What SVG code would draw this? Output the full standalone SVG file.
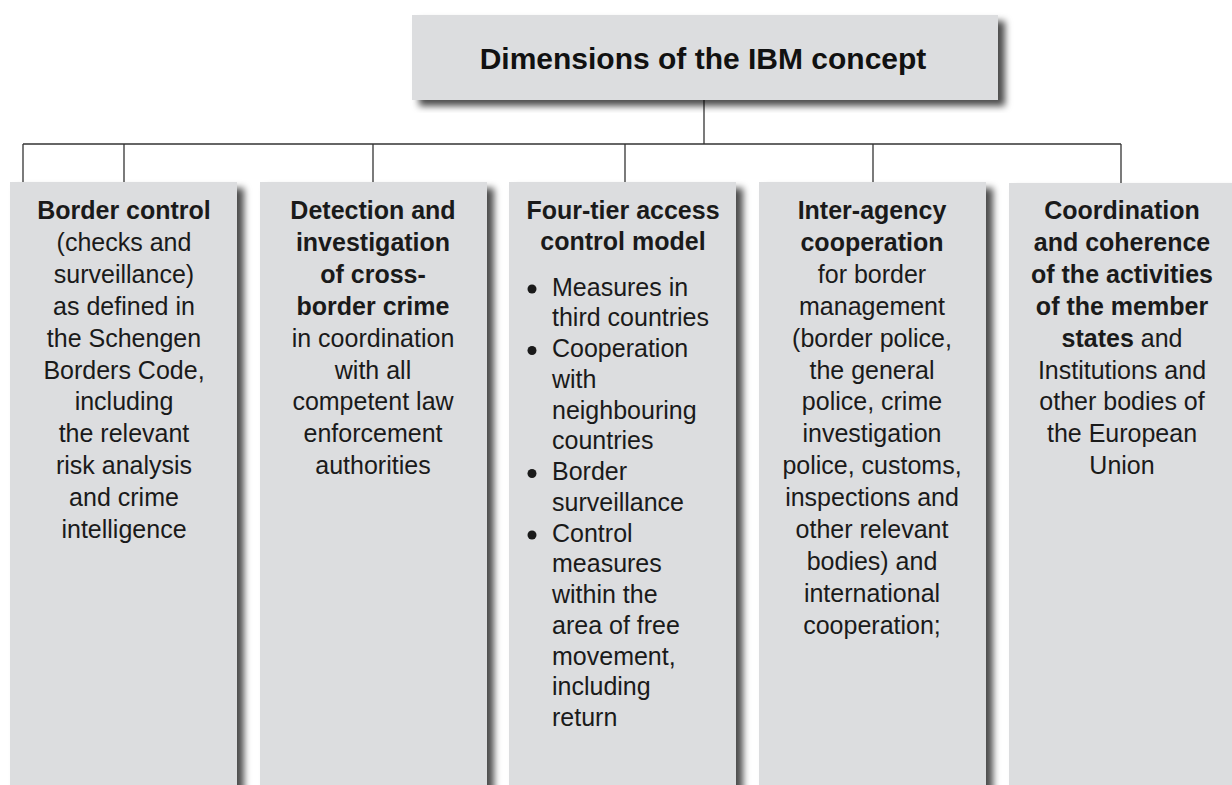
<svg xmlns="http://www.w3.org/2000/svg" width="1232" height="785" viewBox="0 0 1232 785">
<style>
.box{fill:#dcdddf;filter:url(#sh)}
.t{font-family:"Liberation Sans",Arial,sans-serif;font-size:25px;fill:#1a1a1a;text-anchor:middle}
.tl{font-family:"Liberation Sans",Arial,sans-serif;font-size:25px;fill:#1a1a1a}
.b{font-weight:bold}
.ttl{font-family:"Liberation Sans",Arial,sans-serif;font-size:30px;font-weight:bold;fill:#111;text-anchor:middle}
.ln{stroke:#333;stroke-width:1.3;fill:none}
.dot{fill:#1a1a1a}
</style>
<defs>
<filter id="sh" x="-10%" y="-10%" width="125%" height="125%">
<feDropShadow dx="7" dy="6" stdDeviation="3.5" flood-color="#000" flood-opacity="0.7"/>
</filter>
</defs>
<rect width="1232" height="785" fill="#fff"/>
<g id="connectors">
<line class="ln" x1="704" y1="100" x2="704" y2="144"/>
<line class="ln" x1="23" y1="144" x2="1121" y2="144"/>
<line class="ln" x1="23" y1="144" x2="23" y2="182"/>
<line class="ln" x1="124" y1="144" x2="124" y2="182"/>
<line class="ln" x1="373" y1="144" x2="373" y2="182"/>
<line class="ln" x1="625" y1="144" x2="625" y2="182"/>
<line class="ln" x1="873" y1="144" x2="873" y2="182"/>
<line class="ln" x1="1121" y1="144" x2="1121" y2="183"/>
</g>
<g id="title">
<rect class="box" x="412" y="15" width="586" height="85"/>
<text class="ttl" x="703" y="69">Dimensions of the IBM concept</text>
</g>
<g id="border-control">
<rect class="box" x="10" y="182" width="227" height="620"/>
<text class="t" x="124" y="219"><tspan class="b">Border control</tspan><tspan x="124" dy="31.9">(checks and</tspan><tspan x="124" dy="31.9">surveillance)</tspan><tspan x="124" dy="31.9">as defined in</tspan><tspan x="124" dy="31.9">the Schengen</tspan><tspan x="124" dy="31.9">Borders Code,</tspan><tspan x="124" dy="31.9">including</tspan><tspan x="124" dy="31.9">the relevant</tspan><tspan x="124" dy="31.9">risk analysis</tspan><tspan x="124" dy="31.9">and crime</tspan><tspan x="124" dy="31.9">intelligence</tspan></text>
</g>
<g id="detection">
<rect class="box" x="260" y="182" width="227" height="620"/>
<text class="t" x="373" y="219"><tspan class="b">Detection and</tspan><tspan x="373" dy="31.9" class="b">investigation</tspan><tspan x="373" dy="31.9" class="b">of cross-</tspan><tspan x="373" dy="31.9" class="b">border crime</tspan><tspan x="373" dy="31.9">in coordination</tspan><tspan x="373" dy="31.9">with all</tspan><tspan x="373" dy="31.9">competent law</tspan><tspan x="373" dy="31.9">enforcement</tspan><tspan x="373" dy="31.9">authorities</tspan></text>
</g>
<g id="four-tier">
<rect class="box" x="509" y="182" width="227" height="620"/>
<text class="t b" x="623" y="219">Four-tier access<tspan x="623" dy="31">control model</tspan></text>
<circle class="dot" cx="532" cy="289" r="4.5"/>
<circle class="dot" cx="532" cy="350.5" r="4.5"/>
<circle class="dot" cx="532" cy="473.5" r="4.5"/>
<circle class="dot" cx="532" cy="535" r="4.5"/>
<text class="tl" x="552" y="295.7">Measures in<tspan x="552" dy="30.75">third countries</tspan><tspan x="552" dy="30.75">Cooperation</tspan><tspan x="552" dy="30.75">with</tspan><tspan x="552" dy="30.75">neighbouring</tspan><tspan x="552" dy="30.75">countries</tspan><tspan x="552" dy="30.75">Border</tspan><tspan x="552" dy="30.75">surveillance</tspan><tspan x="552" dy="30.75">Control</tspan><tspan x="552" dy="30.75">measures</tspan><tspan x="552" dy="30.75">within the</tspan><tspan x="552" dy="30.75">area of free</tspan><tspan x="552" dy="30.75">movement,</tspan><tspan x="552" dy="30.75">including</tspan><tspan x="552" dy="30.75">return</tspan></text>
</g>
<g id="inter-agency">
<rect class="box" x="759" y="182" width="227" height="620"/>
<text class="t" x="872" y="219"><tspan class="b">Inter-agency</tspan><tspan x="872" dy="31.9" class="b">cooperation</tspan><tspan x="872" dy="31.9">for border</tspan><tspan x="872" dy="31.9">management</tspan><tspan x="872" dy="31.9">(border police,</tspan><tspan x="872" dy="31.9">the general</tspan><tspan x="872" dy="31.9">police, crime</tspan><tspan x="872" dy="31.9">investigation</tspan><tspan x="872" dy="31.9">police, customs,</tspan><tspan x="872" dy="31.9">inspections and</tspan><tspan x="872" dy="31.9">other relevant</tspan><tspan x="872" dy="31.9">bodies) and</tspan><tspan x="872" dy="31.9">international</tspan><tspan x="872" dy="31.9">cooperation;</tspan></text>
</g>
<g id="coordination">
<rect class="box" x="1009" y="183" width="240" height="620"/>
<text class="t" x="1122" y="219"><tspan class="b">Coordination</tspan><tspan x="1122" dy="31.9" class="b">and coherence</tspan><tspan x="1122" dy="31.9" class="b">of the activities</tspan><tspan x="1122" dy="31.9" class="b">of the member</tspan><tspan x="1122" dy="31.9"><tspan class="b">states</tspan> and</tspan><tspan x="1122" dy="31.9">Institutions and</tspan><tspan x="1122" dy="31.9">other bodies of</tspan><tspan x="1122" dy="31.9">the European</tspan><tspan x="1122" dy="31.9">Union</tspan></text>
</g>
</svg>
